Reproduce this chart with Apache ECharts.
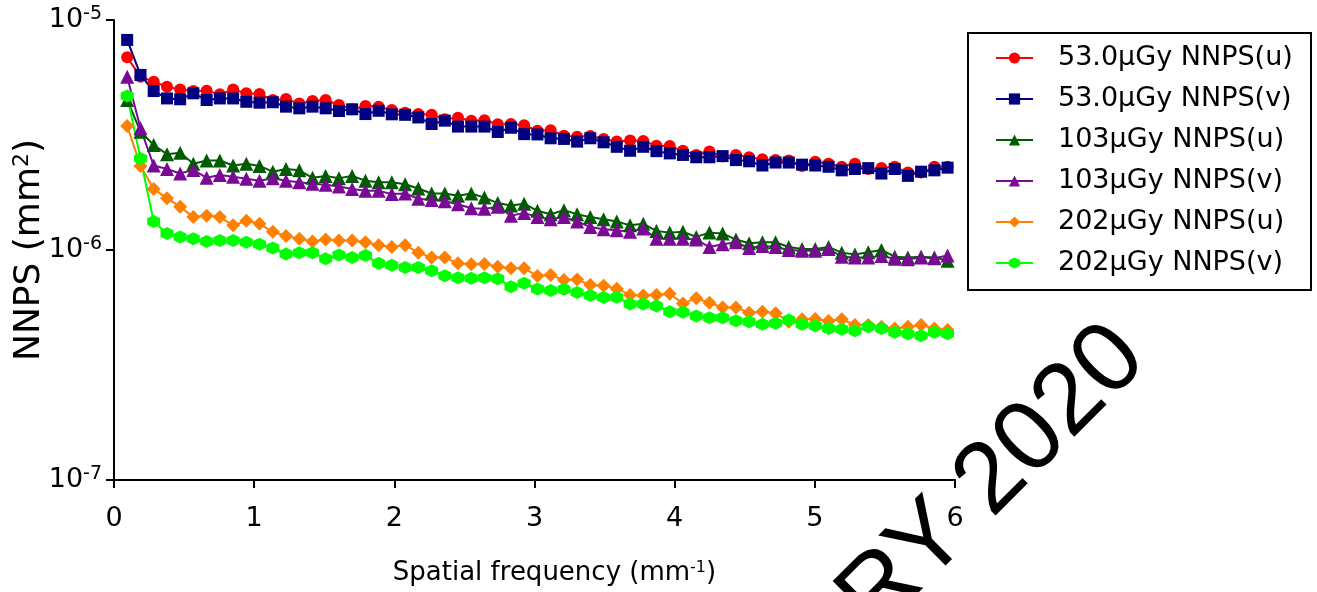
<!DOCTYPE html>
<html>
<head>
<meta charset="utf-8">
<script src="https://cdn.jsdelivr.net/npm/echarts@6/dist/echarts.min.js"></script>
<style>
  html, body { margin: 0; padding: 0; background: #fff; }
  #nnps { width: 1317px; height: 592px; }
</style>
</head>
<body>
<div id="nnps"></div>
<script>
// spatial frequency (mm^-1)
var freq = [0.094, 0.189, 0.283, 0.378, 0.472, 0.566, 0.661, 0.755, 0.850, 0.944,
  1.038, 1.133, 1.227, 1.322, 1.416, 1.510, 1.605, 1.699, 1.794, 1.888,
  1.982, 2.077, 2.171, 2.266, 2.360, 2.454, 2.549, 2.643, 2.738, 2.832,
  2.926, 3.021, 3.115, 3.210, 3.304, 3.398, 3.493, 3.587, 3.682, 3.776,
  3.870, 3.965, 4.059, 4.154, 4.248, 4.342, 4.437, 4.531, 4.626, 4.720,
  4.814, 4.909, 5.003, 5.098, 5.192, 5.286, 5.381, 5.475, 5.570, 5.664,
  5.758, 5.853, 5.947];

// NNPS values, in units of 1e-6 mm^2
var nnps53u = [6.88, 5.67, 5.39, 5.13, 4.99, 4.91, 4.93, 4.75, 4.99, 4.80,
  4.77, 4.49, 4.53, 4.34, 4.44, 4.49, 4.27, 4.09, 4.23, 4.20,
  4.06, 3.95, 3.90, 3.87, 3.70, 3.76, 3.65, 3.67, 3.52, 3.53,
  3.49, 3.30, 3.32, 3.14, 3.11, 3.13, 3.04, 2.96, 2.99, 2.98,
  2.84, 2.83, 2.70, 2.59, 2.68, 2.55, 2.59, 2.53, 2.48, 2.46,
  2.45, 2.32, 2.42, 2.37, 2.30, 2.37, 2.25, 2.27, 2.30, 2.17,
  2.17, 2.30, 2.30];
var nnps53v = [8.19, 5.77, 4.91, 4.56, 4.52, 4.80, 4.49, 4.56, 4.56, 4.41,
  4.37, 4.39, 4.20, 4.13, 4.20, 4.13, 4.02, 4.09, 3.90, 4.03,
  3.89, 3.87, 3.77, 3.53, 3.65, 3.44, 3.44, 3.44, 3.26, 3.40,
  3.19, 3.18, 3.06, 3.04, 2.96, 3.06, 2.94, 2.81, 2.70, 2.81,
  2.69, 2.63, 2.59, 2.53, 2.53, 2.56, 2.46, 2.43, 2.33, 2.40,
  2.40, 2.35, 2.33, 2.30, 2.22, 2.25, 2.27, 2.15, 2.25, 2.10,
  2.19, 2.22, 2.28];
var nnps103u = [4.49, 3.27, 2.86, 2.61, 2.65, 2.37, 2.45, 2.45, 2.33, 2.37,
  2.32, 2.19, 2.25, 2.22, 2.06, 2.10, 2.05, 2.10, 2.00, 1.97,
  1.97, 1.93, 1.85, 1.76, 1.76, 1.72, 1.76, 1.69, 1.60, 1.56,
  1.59, 1.48, 1.43, 1.49, 1.43, 1.39, 1.36, 1.33, 1.28, 1.30,
  1.21, 1.19, 1.20, 1.14, 1.19, 1.18, 1.11, 1.07, 1.08, 1.08,
  1.03, 1.01, 1.01, 1.03, 0.974, 0.957, 0.977, 1.00, 0.935, 0.928,
  0.935, 0.928, 0.899];
var nnps103v = [5.67, 3.38, 2.33, 2.25, 2.15, 2.23, 2.06, 2.12, 2.08, 2.04,
  2.00, 2.05, 2.00, 1.97, 1.94, 1.92, 1.89, 1.84, 1.81, 1.81,
  1.75, 1.76, 1.67, 1.65, 1.63, 1.58, 1.52, 1.51, 1.54, 1.41,
  1.45, 1.39, 1.36, 1.39, 1.33, 1.26, 1.23, 1.22, 1.20, 1.24,
  1.12, 1.12, 1.12, 1.11, 1.03, 1.06, 1.08, 1.02, 1.04, 1.03,
  1.00, 0.993, 0.993, 1.01, 0.935, 0.928, 0.928, 0.941, 0.917, 0.911,
  0.928, 0.920, 0.947];
var nnps202u = [3.46, 2.32, 1.84, 1.68, 1.54, 1.39, 1.41, 1.39, 1.28, 1.34,
  1.30, 1.20, 1.15, 1.12, 1.09, 1.11, 1.10, 1.10, 1.08, 1.05,
  1.03, 1.05, 0.974, 0.928, 0.928, 0.875, 0.867, 0.870, 0.846, 0.832,
  0.832, 0.771, 0.778, 0.741, 0.745, 0.704, 0.700, 0.679, 0.638, 0.634,
  0.638, 0.645, 0.586, 0.617, 0.590, 0.563, 0.563, 0.534, 0.539, 0.531,
  0.488, 0.500, 0.501, 0.491, 0.500, 0.472, 0.472, 0.464, 0.456, 0.464,
  0.472, 0.456, 0.449];
var nnps202v = [4.67, 2.50, 1.33, 1.18, 1.14, 1.12, 1.09, 1.10, 1.10, 1.08,
  1.06, 1.02, 0.960, 0.974, 0.974, 0.917, 0.950, 0.928, 0.947, 0.875,
  0.858, 0.840, 0.840, 0.813, 0.773, 0.758, 0.753, 0.758, 0.750, 0.693,
  0.716, 0.677, 0.666, 0.675, 0.653, 0.634, 0.621, 0.623, 0.582, 0.582,
  0.571, 0.539, 0.536, 0.517, 0.508, 0.508, 0.493, 0.488, 0.476, 0.480,
  0.496, 0.476, 0.468, 0.456, 0.452, 0.446, 0.464, 0.456, 0.439, 0.432,
  0.424, 0.439, 0.432];

var seriesNames = ["53.0\u03bcGy NNPS(u)", "53.0\u03bcGy NNPS(v)", "103\u03bcGy NNPS(u)",
  "103\u03bcGy NNPS(v)", "202\u03bcGy NNPS(u)", "202\u03bcGy NNPS(v)"];

var hexagon = "path://M50,0 L93,25 L93,75 L50,100 L7,75 L7,25 Z";

function pairs(arr) {
  return freq.map(function (f, i) { return [f, arr[i] * 1e-6]; });
}

function makeSeries(name, arr, color, symbol, size) {
  return {
    name: name,
    type: "line",
    data: pairs(arr),
    symbol: symbol,
    symbolSize: size,
    showAllSymbol: true,
    lineStyle: { color: color, width: 2 },
    itemStyle: { color: color },
    emphasis: { disabled: true },
    animation: false
  };
}

var font = "DejaVu Sans";
var myChart = echarts.init(document.getElementById("nnps"), null, { renderer: "canvas" });
myChart.setOption({
  backgroundColor: "#fff",
  textStyle: { fontFamily: font, color: "#000" },
  grid: { left: 114, right: 362, top: 20, bottom: 112, containLabel: false, outerBoundsMode: "none" },
  xAxis: {
    type: "value",
    min: 0,
    max: 6,
    interval: 1,
    name: "Spatial frequency (mm{sup|-1})",
    nameLocation: "middle",
    nameGap: 80,
    nameMoveOverlap: false,
    nameTextStyle: {
      fontSize: 26, fontFamily: font, color: "#000", padding: [0, 0, 0, 40],
      rich: { sup: { fontSize: 16, fontFamily: font, verticalAlign: "top", padding: [0, 0, 10, 0] } }
    },
    axisLine: { lineStyle: { color: "#000", width: 2 } },
    axisTick: { length: 8, lineStyle: { color: "#000", width: 2 } },
    axisLabel: { fontSize: 27, color: "#000", margin: 25 },
    splitLine: { show: false }
  },
  yAxis: {
    type: "log",
    logBase: 10,
    min: 1e-7,
    max: 1e-5,
    name: "NNPS (mm{sup|2})",
    nameLocation: "middle",
    nameGap: 66,
    nameMoveOverlap: false,
    nameTextStyle: {
      fontSize: 36, fontFamily: font, color: "#000",
      rich: { sup: { fontSize: 22, fontFamily: font, verticalAlign: "top", padding: [0, 0, 15, 0] } }
    },
    axisLine: { show: true, lineStyle: { color: "#000", width: 2 } },
    axisTick: { show: true, length: 8, lineStyle: { color: "#000", width: 2 } },
    axisLabel: {
      color: "#000",
      margin: 12,
      formatter: function (v) {
        var e = Math.round(Math.log(v) / Math.LN10);
        return "{b|10}{sup|" + e + "}";
      },
      rich: {
        b: { fontSize: 27, fontFamily: font, color: "#000" },
        sup: { fontSize: 19, fontFamily: font, color: "#000", verticalAlign: "top", padding: [0, 0, 11, 0] }
      }
    },
    splitLine: { show: false }
  },
  legend: {
    orient: "vertical",
    left: 990,
    top: 39,
    itemWidth: 37,
    itemHeight: 14,
    itemGap: 13,
    textStyle: { fontSize: 27, fontFamily: font, color: "#000", lineHeight: 28, padding: [0, 0, 0, 20] },
    data: seriesNames
  },
  graphic: [
    {
      type: "rect",
      shape: { x: 968, y: 33, width: 343, height: 257 },
      style: { fill: null, stroke: "#000", lineWidth: 2 },
      z: 10
    },
    {
      type: "text",
      x: 856,
      y: 616,
      rotation: Math.PI / 4,
      style: {
        text: "RY 2020",
        font: "100px 'Liberation Sans'",
        fill: "#000",
        align: "left",
        verticalAlign: "middle"
      },
      z: 100
    }
  ],
  series: [
    makeSeries(seriesNames[0], nnps53u, "#ff0000", "circle", 12),
    makeSeries(seriesNames[1], nnps53v, "#000080", "rect", 12),
    makeSeries(seriesNames[2], nnps103u, "#005c00", "triangle", 14),
    makeSeries(seriesNames[3], nnps103v, "#7a0a96", "triangle", 14),
    makeSeries(seriesNames[4], nnps202u, "#ff8000", "diamond", 14),
    makeSeries(seriesNames[5], nnps202v, "#00ff00", hexagon, 13)
  ]
});
</script>
</body>
</html>
